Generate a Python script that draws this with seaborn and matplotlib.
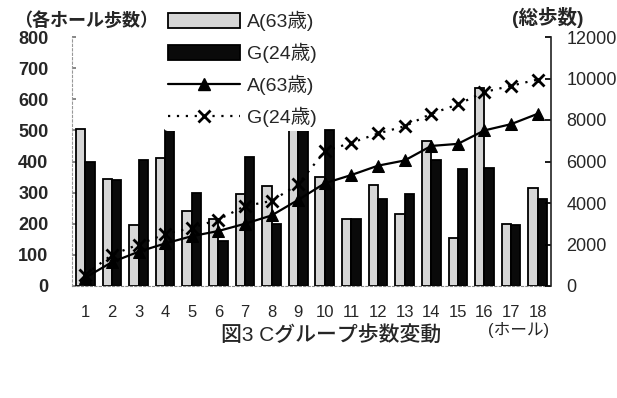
import numpy as np
import pandas as pd
import matplotlib
matplotlib.use("Agg")
import matplotlib.pyplot as plt
import seaborn as sns
from matplotlib.patches import Patch
from matplotlib.lines import Line2D

# Steps per hole and running totals for the two players of group C
holes = [str(i) for i in range(1, 19)]
steps_a = [505, 345, 195, 410, 240, 215, 295, 320, 500, 350, 215, 325, 230, 465, 155, 635, 200, 315]
steps_g = [400, 340, 405, 500, 300, 145, 415, 200, 500, 500, 215, 280, 295, 405, 375, 380, 195, 280]
total_a = [400, 1150, 1650, 2050, 2400, 2650, 3000, 3400, 4150, 4950, 5350, 5800, 6050, 6750, 6850, 7500, 7800, 8300]
total_g = [550, 1500, 2000, 2500, 2800, 3200, 3850, 4100, 4900, 6500, 6900, 7350, 7700, 8300, 8750, 9350, 9650, 9950]
label_a = "A(63歳)"
label_g = "G(24歳)"
left_ticks = list(range(0, 801, 100))
right_ticks = list(range(0, 12001, 2000))

sns.set_theme(style="white")
plt.rcParams["font.family"] = ["Liberation Sans", "Noto Sans CJK JP"]

df = pd.DataFrame({
    "hole": holes * 2,
    "steps": steps_a + steps_g,
    "who": [label_a] * len(holes) + [label_g] * len(holes),
})

W, H = 617, 398
fig = plt.figure(figsize=(W / 100, H / 100), dpi=100)
ax = fig.add_axes([72 / W, (H - 286) / H, 479 / W, 249 / H])

bar_colors = ["#d6d6d6", "#0a0a0a"]
sns.barplot(data=df, x="hole", y="steps", hue="who", palette=bar_colors,
            saturation=1, width=0.7, edgecolor="black", linewidth=1.3,
            ax=ax, legend=False)
ax.set_ylim(0, 800)
ax.set_xlim(-0.5, len(holes) - 0.5)
ax.set_yticks(left_ticks)
ax.set_yticklabels([str(t) for t in left_ticks], fontsize=13, fontweight="bold")
ax.set_xticks(range(len(holes)))
ax.set_xticklabels(holes, fontsize=12, fontweight="medium")
ax.tick_params(axis="y", direction="in", length=3, pad=17, color="#777777")
ax.tick_params(axis="x", direction="in", length=0, pad=14)
ax.set_xlabel("")
ax.set_ylabel("")

ax2 = ax.twinx()
x_pos = np.arange(len(holes))
sns.lineplot(x=x_pos, y=total_a, ax=ax2, color="black", linewidth=1.6,
             marker="^", markersize=8, markeredgecolor="black")
sns.lineplot(x=x_pos, y=total_g, ax=ax2, color="black", linewidth=1.6,
             linestyle=(0, (1, 3)), marker="x", markersize=8,
             markeredgewidth=2, markeredgecolor="black")
ax2.set_ylim(0, 12000)
ax2.set_yticks(right_ticks)
ax2.set_yticklabels([str(t) for t in right_ticks], fontsize=13)
ax2.tick_params(axis="y", direction="in", length=4, pad=11, color="black")
ax2.set_ylabel("")

for a in (ax, ax2):
    a.spines["top"].set_visible(False)
ax.spines["left"].set_color("#999999")
ax.spines["left"].set_linewidth(0.8)
ax.spines["left"].set_linestyle((0, (2, 2)))
ax.spines["bottom"].set_color("#888888")
ax.spines["bottom"].set_linewidth(0.8)
ax.spines["bottom"].set_linestyle((0, (2, 2)))
ax.spines["right"].set_visible(False)
ax2.spines["left"].set_visible(False)
ax2.spines["bottom"].set_visible(False)
ax2.spines["right"].set_color("#222222")
ax2.spines["right"].set_linewidth(1.2)

handles = [
    Patch(facecolor=bar_colors[0], edgecolor="black", linewidth=1.3),
    Patch(facecolor=bar_colors[1], edgecolor="black", linewidth=1.3),
    Line2D([], [], color="black", linewidth=1.6, marker="^", markersize=8),
    Line2D([], [], color="black", linewidth=1.6, linestyle=(0, (1, 3)),
           marker="x", markersize=8, markeredgewidth=2),
]
fig.legend(handles, [label_a, label_g, label_a, label_g],
           loc="upper left", bbox_to_anchor=(164 / W, 1 - 7 / H),
           frameon=True, facecolor="white", edgecolor="none", framealpha=1,
           fontsize=14, handlelength=3.7, handleheight=0.85,
           labelspacing=0.6, handletextpad=0.35, borderpad=0.2,
           borderaxespad=0)

fig.text(14 / W, 1 - 21 / H, "（各ホール歩数）", fontsize=13, fontweight="bold",
         ha="left", va="center")
fig.text(512 / W, 1 - 18 / H, "(総歩数)", fontsize=14, fontweight="bold",
         ha="left", va="center")
fig.text(519 / W, 1 - 330 / H, "(ホール)", fontsize=12,
         ha="center", va="center")
fig.text(331 / W, 1 - 335 / H, "図3 Cグループ歩数変動", fontsize=15,
         fontweight="medium", ha="center", va="center")

fig.savefig("out.png", dpi=100, facecolor="white")
